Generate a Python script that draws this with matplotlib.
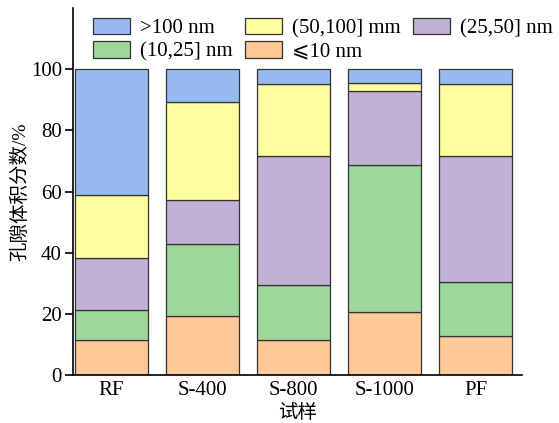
import matplotlib
matplotlib.use('Agg')
import matplotlib.pyplot as plt
import numpy as np

plt.rcParams['font.family'] = ['Liberation Serif', 'DejaVu Sans', 'Noto Sans CJK SC']
plt.rcParams['font.size'] = 15

samples = ['RF', 'S-400', 'S-800', 'S-1000', 'PF']
labels = ['>100 nm', '(50,100] mm', '(25,50] nm', '(10,25] nm', '⩽10 nm']
colors = ['#98B9F0', '#FFFDA0', '#C3B1D5', '#9ED79B', '#FFC896']

# cumulative tops, bottom to top
le10 = [11.4, 19.3, 11.4, 20.5, 12.8]
r10_25 = [21.4, 42.7, 29.4, 68.7, 30.4]
r25_50 = [38.4, 57.1, 71.7, 92.9, 71.6]
r50_100 = [58.7, 89.3, 95.0, 95.5, 95.0]
gt100 = [100, 100, 100, 100, 100]

tops = [le10, r10_25, r25_50, r50_100, gt100]
fig = plt.figure(figsize=(5.59, 4.23), dpi=100)
ax = fig.add_axes([0.1306, 0.1135, 0.8034, 0.8675])

x = np.arange(len(samples))
bottom = np.zeros(len(samples))
handles = []
# draw from the bottom segment up
for top, c, lab in zip(tops, colors[::-1], labels[::-1]):
    h = np.array(top) - bottom
    b = ax.bar(x, h, 0.8, bottom=bottom, color=c, edgecolor='#333333', linewidth=0.9, label=lab)
    handles.append(b)
    bottom = np.array(top)
handles = handles[::-1]

ax.set_xlim(-0.42, 4.51)
ax.set_ylim(0, 120)
ax.set_yticks([0, 20, 40, 60, 80, 100])
ax.set_xticks(x)
ax.set_xticklabels(samples)
ax.tick_params(axis='x', length=0, pad=4)
ax.tick_params(axis='y', length=6, width=1.2, direction='out', pad=2)
ax.spines['top'].set_visible(False)
ax.spines['right'].set_visible(False)
ax.spines['left'].set_linewidth(1.2)
ax.spines['bottom'].set_linewidth(1.2)

ax.set_ylabel('孔隙体积分数/%', fontsize=14, labelpad=1)
ax.set_xlabel('试样', fontsize=14, labelpad=3)

order = [0, 3, 1, 4, 2]
ax.legend([handles[i] for i in order], [labels[i] for i in order], ncol=3,
          loc='upper left', bbox_to_anchor=(0.044, 0.974), frameon=False,
          handlelength=1.8, handleheight=0.85, handletextpad=0.45,
          columnspacing=0.6, labelspacing=0.15, borderpad=0, borderaxespad=0)

fig.savefig('out.png', dpi=100)
